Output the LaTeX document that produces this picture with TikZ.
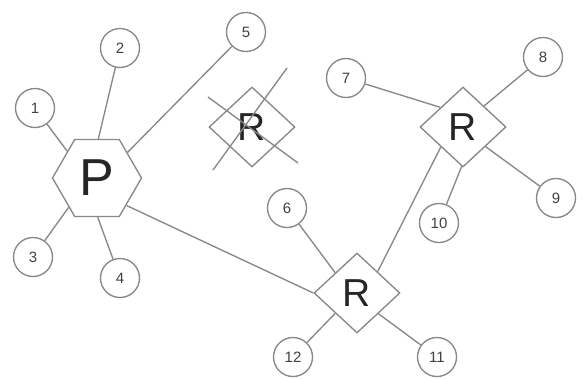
\documentclass[tikz,border=0pt]{standalone}
\usepackage{fontspec}
\setmainfont{Liberation Sans}
\usetikzlibrary{shapes.geometric}
\definecolor{linegray}{HTML}{888888}
\definecolor{numgray}{HTML}{404040}
\begin{document}
\begin{tikzpicture}[x=1pt,y=-1pt,
  edge/.style={draw=linegray, line width=1.35pt},
  num/.style={circle, draw=linegray, line width=1.35pt, minimum size=39pt,
    inner sep=0pt, font=\fontsize{15}{15}\selectfont, text=numgray},
  rel/.style={diamond, draw=linegray, line width=1.35pt, minimum width=86pt,
    minimum height=80pt, inner sep=0pt, font=\fontsize{39}{39}\selectfont, text=black!85},
  hexa/.style={regular polygon, regular polygon sides=6, draw=linegray,
    line width=1.35pt, minimum size=89pt, inner sep=0pt,
    font=\fontsize{52}{52}\selectfont, text=black!85}]
  \useasboundingbox (0,0) rectangle (583,378);

  % entity and relationships
  \node[hexa] (P) at (97,178) {P};
  \node[rel] (R1) at (252,127) {R};
  \node[rel] (R2) at (357,293) {R};
  \node[rel] (R3) at (463,127) {R};

  % attribute circles
  \node[num] (n1) at (35,108) {1};
  \node[num] (n2) at (120,48) {2};
  \node[num] (n3) at (33,257) {3};
  \node[num] (n4) at (120,278) {4};
  \node[num] (n5) at (246,32) {5};
  \node[num] (n6) at (287,208) {6};
  \node[num] (n7) at (346,78) {7};
  \node[num] (n8) at (543,57) {8};
  \node[num] (n9) at (556,198) {9};
  \node[num] (n10) at (439,223) {10};
  \node[num] (n11) at (437,357) {11};
  \node[num] (n12) at (293,357) {12};

  % links around P
  \draw[edge] (n1) -- (P.138);
  \draw[edge] (n2) -- (P.88);
  \draw[edge] (n3) -- (P.226);
  \draw[edge] (n4) -- (P.-89);
  \draw[edge] (n5) -- (P.40);
  \draw[edge] (P.-43) -- (R2.west);

  % links around the lower R
  \draw[edge] (n6) -- (R2.137);
  \draw[edge] (n12) -- (R2.223);
  \draw[edge] (n11) -- (R2.-44);
  \draw[edge] (R2.46) -- (R3.222);

  % links around the right R
  \draw[edge] (n7) -- (R3.139);
  \draw[edge] (n8) -- (R3.45);
  \draw[edge] (n9) -- (R3.-41);
  \draw[edge] (n10) -- (R3.268);

  % strike-through of the removed relationship
  \coordinate (x1a) at (287,68);
  \coordinate (x1b) at (213,170);
  \coordinate (x2a) at (208,97);
  \coordinate (x2b) at (298,163);
  \draw[edge] (x1a) -- (x1b);
  \draw[edge] (x2a) -- (x2b);
\end{tikzpicture}
\end{document}
